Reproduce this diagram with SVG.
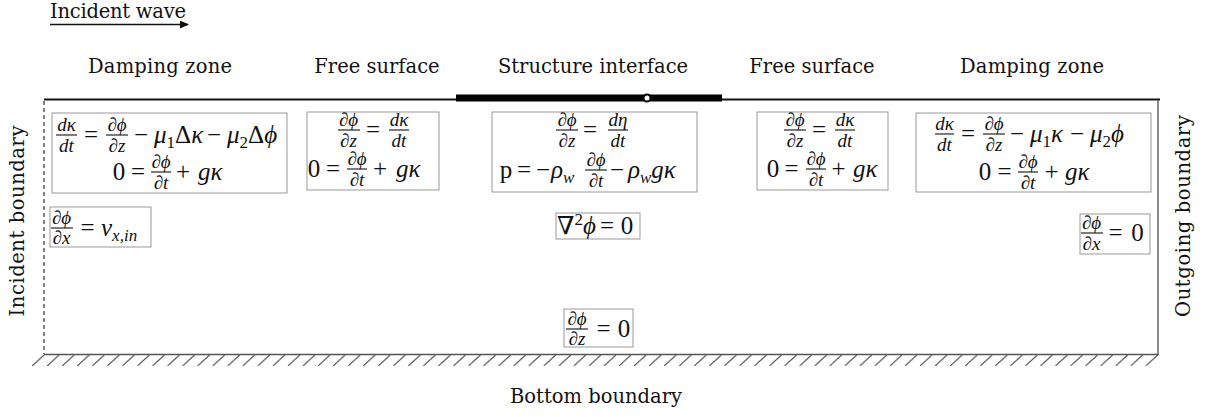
<svg xmlns="http://www.w3.org/2000/svg" width="1216" height="417" viewBox="0 0 1216 417">
<style>
.lbl{font-family:"DejaVu Serif","Liberation Serif",serif;font-size:19.5px;fill:#111}
.m{font-family:"Liberation Serif","DejaVu Serif",serif;font-size:25px;fill:#111}
.i{font-style:italic}
.f{font-size:19px}
.s{font-size:17px}
.c{text-anchor:middle}
.box{fill:#fff;stroke:#999;stroke-width:1}
.bar{stroke:#111;stroke-width:1.1}
</style>
<defs>
<pattern id="hatch" patternUnits="userSpaceOnUse" x="32" y="355" width="15.05" height="11">
<line x1="12" y1="0" x2="0" y2="11" stroke="#555" stroke-width="1.2"/>
</pattern>
<marker id="arr" markerWidth="9" markerHeight="8" refX="8" refY="4" orient="auto" markerUnits="userSpaceOnUse">
<path d="M0,0 L9,4 L0,8 z" fill="#111"/>
</marker>
</defs>
<rect width="1216" height="417" fill="#fff"/>

<g id="domain">
<line x1="44" y1="99.5" x2="1160" y2="99.5" stroke="#111" stroke-width="2"/>
<rect x="456" y="94.5" width="266" height="7" fill="#000"/>
<circle cx="647" cy="98" r="3.5" fill="#fff" stroke="#000" stroke-width="2"/>
<line x1="44" y1="101" x2="44" y2="354" stroke="#333" stroke-width="1.2" stroke-dasharray="4 3"/>
<line x1="1158" y1="100" x2="1158" y2="355" stroke="#666" stroke-width="1.5"/>
<line x1="44" y1="354.5" x2="1158.5" y2="354.5" stroke="#555" stroke-width="1.5"/>
<rect x="32" y="355" width="1127" height="11" fill="url(#hatch)"/>
</g>

<g id="labels">
<text class="lbl" x="50" y="18" textLength="136">Incident wave</text>
<text class="lbl c" x="160" y="73" textLength="144">Damping zone</text>
<text class="lbl c" x="377" y="73">Free surface</text>
<text class="lbl c" x="593" y="73">Structure interface</text>
<text class="lbl c" x="812" y="73">Free surface</text>
<text class="lbl c" x="1032" y="73" textLength="144">Damping zone</text>
<text class="lbl c" x="596" y="403" textLength="172">Bottom boundary</text>
<text class="lbl c" transform="translate(24,221) rotate(-90)" textLength="191">Incident boundary</text>
<text class="lbl c" transform="translate(1190,216) rotate(-90)" textLength="202">Outgoing boundary</text>
</g>

<g id="connectors">
<line x1="50" y1="24.5" x2="188" y2="24.5" stroke="#111" stroke-width="1.5" marker-end="url(#arr)"/>
</g>

<g id="bc-damping-left">
<rect class="box" x="52" y="113" width="235" height="80"/>
<text class="m f i c" x="66.5" y="131">dκ</text>
<line class="bar" x1="56" y1="135" x2="77" y2="135"/>
<text class="m f i c" x="66.5" y="152">dt</text>
<text class="m c" x="91" y="143">=</text>
<text class="m f i c" x="117" y="131">∂ϕ</text>
<line class="bar" x1="106" y1="135" x2="128" y2="135"/>
<text class="m f i c" x="117" y="152">∂z</text>
<text class="m c" x="141" y="143">−</text>
<text class="m" x="154" y="143"><tspan class="i">μ</tspan><tspan class="s" dy="5">1</tspan><tspan dy="-5">Δ</tspan><tspan class="i">κ</tspan></text>
<text class="m c" x="214" y="143">−</text>
<text class="m" x="227" y="143"><tspan class="i">μ</tspan><tspan class="s" dy="5">2</tspan><tspan dy="-5">Δ</tspan><tspan class="i">ϕ</tspan></text>
<text class="m c" x="119" y="180">0</text>
<text class="m c" x="138" y="180">=</text>
<text class="m f i c" x="161" y="168">∂ϕ</text>
<line class="bar" x1="151" y1="172" x2="171" y2="172"/>
<text class="m f i c" x="161" y="189">∂t</text>
<text class="m c" x="183" y="180">+</text>
<text class="m i" x="198" y="180">gκ</text>
</g>

<g id="bc-free-left">
<rect class="box" x="307" y="112" width="132" height="78"/>
<text class="m f i c" x="348.5" y="126">∂ϕ</text>
<line class="bar" x1="338" y1="130" x2="360" y2="130"/>
<text class="m f i c" x="348.5" y="147">∂z</text>
<text class="m c" x="373" y="138">=</text>
<text class="m f i c" x="399" y="126">dκ</text>
<line class="bar" x1="389" y1="130" x2="409" y2="130"/>
<text class="m f i c" x="399" y="147">dt</text>
<text class="m c" x="314" y="177">0</text>
<text class="m c" x="333" y="177">=</text>
<text class="m f i c" x="357" y="165">∂ϕ</text>
<line class="bar" x1="347" y1="169" x2="367" y2="169"/>
<text class="m f i c" x="357" y="186">∂t</text>
<text class="m c" x="380" y="177">+</text>
<text class="m i" x="396" y="177">gκ</text>
</g>

<g id="bc-structure">
<rect class="box" x="492" y="112" width="205" height="80"/>
<text class="m f i c" x="567" y="126">∂ϕ</text>
<line class="bar" x1="556" y1="130" x2="578" y2="130"/>
<text class="m f i c" x="567" y="147">∂z</text>
<text class="m c" x="590" y="138">=</text>
<text class="m f i c" x="618" y="126">dη</text>
<line class="bar" x1="608" y1="130" x2="628" y2="130"/>
<text class="m f i c" x="618" y="147">dt</text>
<text class="m c" x="506" y="178">p</text>
<text class="m c" x="524" y="178">=</text>
<text class="m c" x="543" y="178">−</text>
<text class="m" x="551" y="178"><tspan class="i">ρ</tspan><tspan class="s i" dy="5">w</tspan></text>
<text class="m f i c" x="596" y="166">∂ϕ</text>
<line class="bar" x1="585" y1="170" x2="607" y2="170"/>
<text class="m f i c" x="596" y="187">∂t</text>
<text class="m c" x="617" y="178">−</text>
<text class="m" x="628" y="178"><tspan class="i">ρ</tspan><tspan class="s i" dy="5">w</tspan><tspan class="i" dy="-5">gκ</tspan></text>
</g>

<g id="bc-free-right">
<rect class="box" x="757" y="112" width="131" height="78"/>
<text class="m f i c" x="795" y="126">∂ϕ</text>
<line class="bar" x1="784" y1="130" x2="806" y2="130"/>
<text class="m f i c" x="795" y="147">∂z</text>
<text class="m c" x="819" y="138">=</text>
<text class="m f i c" x="845" y="126">dκ</text>
<line class="bar" x1="835" y1="130" x2="855" y2="130"/>
<text class="m f i c" x="845" y="147">dt</text>
<text class="m c" x="773" y="177">0</text>
<text class="m c" x="791.5" y="177">=</text>
<text class="m f i c" x="816" y="165">∂ϕ</text>
<line class="bar" x1="806" y1="169" x2="826" y2="169"/>
<text class="m f i c" x="816" y="186">∂t</text>
<text class="m c" x="838.5" y="177">+</text>
<text class="m i" x="853" y="177">gκ</text>
</g>

<g id="bc-damping-right">
<rect class="box" x="916" y="113" width="235" height="79"/>
<text class="m f i c" x="944.5" y="130">dκ</text>
<line class="bar" x1="935" y1="134" x2="954" y2="134"/>
<text class="m f i c" x="944.5" y="151">dt</text>
<text class="m c" x="968" y="142">=</text>
<text class="m f i c" x="994" y="130">∂ϕ</text>
<line class="bar" x1="983" y1="134" x2="1005" y2="134"/>
<text class="m f i c" x="994" y="151">∂z</text>
<text class="m c" x="1017" y="142">−</text>
<text class="m" x="1030" y="142"><tspan class="i">μ</tspan><tspan class="s" dy="5">1</tspan><tspan class="i" dy="-5">κ</tspan></text>
<text class="m c" x="1077" y="142">−</text>
<text class="m" x="1090" y="142"><tspan class="i">μ</tspan><tspan class="s" dy="5">2</tspan><tspan class="i" dy="-5">ϕ</tspan></text>
<text class="m c" x="985" y="180">0</text>
<text class="m c" x="1004.5" y="180">=</text>
<text class="m f i c" x="1028" y="168">∂ϕ</text>
<line class="bar" x1="1018" y1="172" x2="1038" y2="172"/>
<text class="m f i c" x="1028" y="189">∂t</text>
<text class="m c" x="1051.5" y="180">+</text>
<text class="m i" x="1065" y="180">gκ</text>
</g>

<g id="bc-incident">
<rect class="box" x="50" y="207" width="101" height="40"/>
<text class="m f i c" x="61.5" y="224">∂ϕ</text>
<line class="bar" x1="51" y1="228" x2="73" y2="228"/>
<text class="m f i c" x="61.5" y="244">∂x</text>
<text class="m c" x="87.5" y="236">=</text>
<text class="m" x="101" y="236"><tspan class="i">v</tspan><tspan class="s i" dy="5">x,in</tspan></text>
</g>

<g id="laplace">
<rect class="box" x="556" y="213" width="84" height="26"/>
<text class="m" x="557" y="234">∇<tspan class="s" dy="-9">2</tspan><tspan class="i" dy="9">ϕ</tspan></text>
<text class="m c" x="607" y="234">=</text>
<text class="m c" x="627" y="234">0</text>
</g>

<g id="bc-outgoing">
<rect class="box" x="1080" y="214" width="70" height="40"/>
<text class="m f i c" x="1091.5" y="229">∂ϕ</text>
<line class="bar" x1="1081" y1="233" x2="1103" y2="233"/>
<text class="m f i c" x="1091.5" y="250">∂x</text>
<text class="m c" x="1115.5" y="241">=</text>
<text class="m c" x="1137.5" y="241">0</text>
</g>

<g id="bc-bottom">
<rect class="box" x="564" y="309" width="69" height="38"/>
<text class="m f i c" x="577" y="325">∂ϕ</text>
<line class="bar" x1="566" y1="329" x2="588" y2="329"/>
<text class="m f i c" x="577" y="345">∂z</text>
<text class="m c" x="603.5" y="337">=</text>
<text class="m c" x="624" y="337">0</text>
</g>
</svg>
